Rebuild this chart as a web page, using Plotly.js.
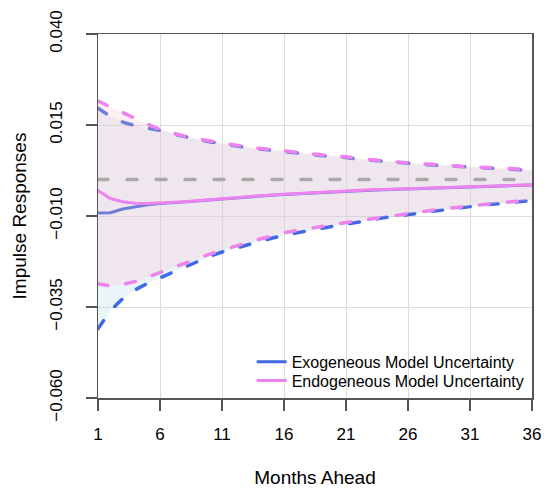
<!DOCTYPE html>
<html>
<head>
<meta charset="utf-8">
<script src="https://cdn.plot.ly/plotly-3.0.1.min.js"></script>
<style>
html,body{margin:0;padding:0;background:#fff;}
#chart{width:547px;height:490px;}
#chart .scatterlayer path.js-line{stroke-linecap:round;}
</style>
</head>
<body>
<div id="chart"></div>
<script>
// Months ahead
const months = Array.from({length: 36}, (_, i) => i + 1);
const xTickVals = [1, 6, 11, 16, 21, 26, 31, 36];
const yTickVals = [-0.060, -0.035, -0.010, 0.015, 0.040];

// Exogeneous model uncertainty
const exoMid = [-0.0092,-0.0091,-0.0081,-0.0074,-0.0069,-0.0066,-0.0064,-0.0061,-0.0059,-0.0056,
  -0.0053,-0.0051,-0.0048,-0.0046,-0.0043,-0.0041,-0.0039,-0.0037,-0.0035,-0.0034,
  -0.0032,-0.0031,-0.0029,-0.0028,-0.0027,-0.0025,-0.0024,-0.0023,-0.0022,-0.0021,
  -0.0020,-0.0019,-0.0018,-0.0017,-0.0016,-0.0015];
const exoUpper = [0.0196,0.0174,0.0158,0.0148,0.0141,0.0135,0.0126,0.0117,0.0110,0.0104,
  0.0098,0.0093,0.0088,0.0084,0.0080,0.0076,0.0073,0.0069,0.0066,0.0063,
  0.0061,0.0056,0.0053,0.0049,0.0047,0.0044,0.0042,0.0040,0.0038,0.0036,
  0.0034,0.0032,0.0031,0.0029,0.0027,0.0025];
const exoLower = [-0.0410,-0.0360,-0.0327,-0.0303,-0.0285,-0.0270,-0.0255,-0.0240,-0.0225,-0.0211,
  -0.0199,-0.0189,-0.0179,-0.0170,-0.0161,-0.0153,-0.0146,-0.0140,-0.0134,-0.0128,
  -0.0123,-0.0117,-0.0111,-0.0105,-0.0100,-0.0095,-0.0091,-0.0087,-0.0083,-0.0078,
  -0.0074,-0.0070,-0.0067,-0.0064,-0.0061,-0.0057];

// Endogeneous model uncertainty
const endoMid = [-0.0030,-0.0052,-0.0061,-0.0065,-0.0066,-0.0065,-0.0063,-0.0061,-0.0058,-0.0055,
  -0.0052,-0.0050,-0.0047,-0.0045,-0.0042,-0.0040,-0.0038,-0.0036,-0.0034,-0.0033,
  -0.0031,-0.0030,-0.0028,-0.0027,-0.0026,-0.0024,-0.0023,-0.0022,-0.0021,-0.0020,
  -0.0019,-0.0018,-0.0017,-0.0016,-0.0015,-0.0014];
const endoUpper = [0.0216,0.0200,0.0183,0.0167,0.0152,0.0138,0.0128,0.0119,0.0112,0.0106,
  0.0100,0.0095,0.0090,0.0086,0.0082,0.0078,0.0075,0.0071,0.0068,0.0065,
  0.0063,0.0058,0.0055,0.0051,0.0048,0.0045,0.0043,0.0042,0.0039,0.0038,
  0.0035,0.0034,0.0032,0.0030,0.0029,0.0027];
const endoLower = [-0.0286,-0.0292,-0.0288,-0.0280,-0.0268,-0.0255,-0.0242,-0.0229,-0.0217,-0.0205,
  -0.0194,-0.0183,-0.0174,-0.0164,-0.0155,-0.0146,-0.0140,-0.0134,-0.0128,-0.0123,
  -0.0118,-0.0113,-0.0108,-0.0102,-0.0097,-0.0093,-0.0088,-0.0084,-0.0080,-0.0076,
  -0.0072,-0.0068,-0.0065,-0.0062,-0.0059,-0.0056];
const zeroLine = months.map(() => 0);

const seriesNames = ['Exogeneous Model Uncertainty', 'Endogeneous Model Uncertainty'];
const BLUE = '#4169E1', PINK = '#EE82EE';

function band(upper, lower, fill) {
  return {
    x: months.concat(months.slice().reverse()),
    y: upper.concat(lower.slice().reverse()),
    type: 'scatter', mode: 'lines', fill: 'toself', fillcolor: fill,
    line: {width: 0, color: 'rgba(0,0,0,0)'}, hoverinfo: 'skip', showlegend: false
  };
}
function dashed(y, color) {
  return {x: months, y: y, type: 'scatter', mode: 'lines',
    line: {color: color, width: 3.5, dash: '10px,18px'}, showlegend: false};
}

const data = [
  band(exoUpper, exoLower, 'rgba(173,216,230,0.25)'),
  dashed(exoUpper, BLUE),
  dashed(exoLower, BLUE),
  {x: months, y: exoMid, type: 'scatter', mode: 'lines', name: seriesNames[0],
   legend: 'legend', line: {color: BLUE, width: 3}},
  band(endoUpper, endoLower, 'rgba(255,192,203,0.25)'),
  dashed(endoUpper, PINK),
  dashed(endoLower, PINK),
  {x: months, y: endoMid, type: 'scatter', mode: 'lines', name: seriesNames[1],
   legend: 'legend2', line: {color: PINK, width: 3}},
  {x: months, y: zeroLine, type: 'scatter', mode: 'lines', showlegend: false,
   line: {color: '#A9A9A9', width: 3.5, dash: '10px,19px'}}
];

const FONT = 'Liberation Sans, Arial, Helvetica, sans-serif';
const legendBase = {x: 0.354, xanchor: 'left', yanchor: 'middle',
  bgcolor: 'rgba(0,0,0,0)', borderwidth: 0,
  font: {family: FONT, size: 16, color: '#000'}, itemwidth: 30};
const layout = {
  width: 547, height: 490,
  margin: {l: 98, r: 15, t: 34, b: 92},
  paper_bgcolor: '#ffffff', plot_bgcolor: '#ffffff',
  font: {family: FONT, size: 17, color: '#000'},
  showlegend: true,
  legend: Object.assign({}, legendBase, {y: 0.099}),
  legend2: Object.assign({}, legendBase, {y: 0.048}),
  xaxis: {
    range: [1, 36], tickvals: xTickVals, ticktext: xTickVals.map(String),
    ticks: 'outside', ticklen: 11, tickwidth: 1.5, tickcolor: '#555',
    showline: true, mirror: true, linecolor: '#555', linewidth: 1.5,
    showgrid: true, gridcolor: '#DCDCDC', gridwidth: 1, zeroline: false,
    ticklabelstandoff: 9,
    tickfont: {family: FONT, size: 17, color: '#000'},
    title: {text: 'Months Ahead', font: {family: FONT, size: 19, color: '#000'}, standoff: 28}
  },
  yaxis: {
    range: [-0.060, 0.040], tickvals: yTickVals, tickformat: '.3f',
    tickangle: -90,
    ticks: 'outside', ticklen: 11, tickwidth: 1.5, tickcolor: '#555',
    showline: true, mirror: true, linecolor: '#555', linewidth: 1.5,
    showgrid: true, gridcolor: '#DCDCDC', gridwidth: 1, zeroline: false,
    ticklabelstandoff: 17,
    tickfont: {family: FONT, size: 17, color: '#000'},
    title: {text: 'Impulse Responses', font: {family: FONT, size: 19, color: '#000'}, standoff: 15}
  }
};

Plotly.newPlot('chart', data, layout, {displayModeBar: false, staticPlot: true});
</script>
</body>
</html>
